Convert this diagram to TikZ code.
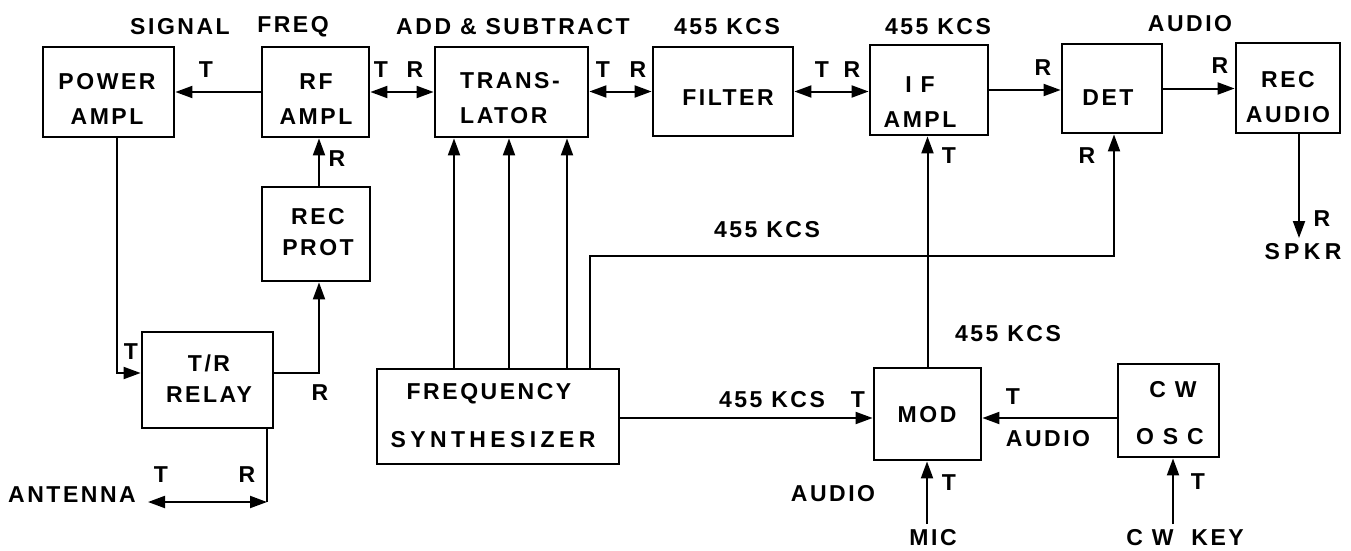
\documentclass[tikz,border=0pt]{standalone}
\usepackage{fontspec}
\setmainfont{Liberation Sans}[LetterSpace=11,BoldFont={Liberation Sans Bold}]
\usetikzlibrary{arrows.meta}
\newcommand\dfont{\fontsize{23}{27}\selectfont\bfseries}
\begin{document}
\begin{tikzpicture}[x=1pt,y=-1pt,
  box/.style={draw, line width=2.8pt, inner sep=0pt, rectangle},
  txt/.style={font=\dfont, inner sep=0pt, align=center},
  lbl/.style={font=\dfont, inner sep=0pt},
  wire/.style={line width=2pt},
  arr/.style={wire, -{Triangle[length=17pt,width=12pt]}},
  darr/.style={wire, {Triangle[length=17pt,width=12pt]}-{Triangle[length=17pt,width=12pt]}}]
\useasboundingbox[fill=white] (0,0) rectangle (1351,551);

% boxes
\node[box, minimum width=131pt, minimum height=90pt] (pa)  at (108.5,92) {};
\node[box, minimum width=107pt, minimum height=90pt] (rf)  at (315.5,92) {};
\node[box, minimum width=153pt, minimum height=90pt] (tr)  at (511.5,92) {};
\node[box, minimum width=140pt, minimum height=89pt] (fi)  at (723,91.5) {};
\node[box, minimum width=118pt, minimum height=90pt] (if)  at (929,90) {};
\node[box, minimum width=100pt, minimum height=89pt] (det) at (1112,88.5) {};
\node[box, minimum width=104pt, minimum height=90pt] (ra)  at (1288,88) {};
\node[box, minimum width=108pt, minimum height=94pt] (rp)  at (316,234) {};
\node[box, minimum width=131pt, minimum height=96pt] (rel) at (207.5,380) {};
\node[box, minimum width=242pt, minimum height=95pt] (fs)  at (498,416.5) {};
\node[box, minimum width=107pt, minimum height=92pt] (mod) at (927.5,414) {};
\node[box, minimum width=101pt, minimum height=93pt] (cw)  at (1168.5,410.5) {};

% box texts
\node[txt] (paT)  at (107,99)  {POWER\\[8pt]AMPL};
\node[txt] (rfT)  at (316,99)  {RF\\[8pt]AMPL};
\node[txt, align=left] (trT) at (510,98) {TRANS-\\[8pt]LATOR};
\node[txt] (fiT)  at (728,98)  {FILTER};
\node[txt] (ifT)  at (920,102) {I F\\[8pt]AMPL};
\node[txt] (detT) at (1108,97.5) {DET};
\node[txt] (raT)  at (1288,97) {REC\\[8pt]AUDIO};
\node[txt] (rpT)  at (318,232) {REC\\[4pt]PROT};
\node[txt] (relT) at (209,379) {T/R\\[4pt]RELAY};
\node[txt] (fsT1) at (489,393.5) {FREQUENCY};
\node[txt, font=\dfont\addfontfeature{LetterSpace=19}] (fsT2) at (493,440) {SYNTHESIZER};
\node[txt] (modT) at (927,415) {MOD};
\node[txt] (cwT1) at (1173,389.5) {C W};
\node[txt] (cwT2) at (1170,436.5) {O S C};

% coordinates
\coordinate (spk) at (1299,238);
\coordinate (x319) at (319,0);
\coordinate (paDn) at (117,373);
\coordinate (rpUp) at (319,373);
\coordinate (antC) at (267,502);
\coordinate (ant) at (148,502);
\coordinate (s1) at (454,0);
\coordinate (s2) at (509,0);
\coordinate (s3) at (567,0);
\coordinate (lo) at (590,256);
\coordinate (lo2) at (1114,256);
\coordinate (fsm) at (0,418);
\coordinate (mic) at (927,524);
\coordinate (cwk) at (1173,524);

% connectors
\draw[arr] (rf.west) -- (pa.east);
\draw[darr] (rf.east) -- (tr.west);
\draw[darr] (tr.east |- fi.west) -- (fi.west);
\draw[darr] (fi.east) -- (fi.east -| if.west);
\draw[arr] (if.east) -- (if.east -| det.west);
\draw[arr] (det.east) -- (det.east -| ra.west);
\draw[arr] (ra.south -| spk) -- (spk);
\draw[arr] (rp.north -| x319) -- (rf.south -| x319);
\draw[arr] (pa.south -| paDn) -- (paDn) -- (rel.west |- paDn);
\draw[arr] (rel.east |- rpUp) -- (rpUp) -- (rp.south -| rpUp);
\draw[wire] (rel.south -| antC) -- (antC);
\draw[darr] (ant) -- (antC);
\draw[arr] (fs.north -| s1) -- (tr.south -| s1);
\draw[arr] (fs.north -| s2) -- (tr.south -| s2);
\draw[arr] (fs.north -| s3) -- (tr.south -| s3);
\draw[arr] (fs.north -| lo) -- (lo) -- (lo2) -- (det.south -| lo2);
\draw[arr] (fs.east |- fsm) -- (mod.west |- fsm);
\draw[arr] (mod.north) -- (mod.north |- if.south);
\draw[arr] (cw.west |- fsm) -- (mod.east |- fsm);
\draw[arr] (mic) -- (mod.south -| mic);
\draw[arr] (cwk) -- (cw.south -| cwk);

% labels
\node[lbl] (l1) at (180,27) {SIGNAL};
\node[lbl] (l2) at (293,27) {FREQ};
\node[lbl] (l3) at (513,27) {ADD \& SUBTRACT};
\node[lbl] (l4) at (727,27) {455 KCS};
\node[lbl] (l5) at (938,27) {455 KCS};
\node[lbl] (l6) at (1190,24) {AUDIO};
\node[lbl] (t1) at (206,70) {T};
\node[lbl] (t2) at (381,70) {T};
\node[lbl] (r2) at (415,70) {R};
\node[lbl] (t3) at (603,70) {T};
\node[lbl] (r3) at (638,70) {R};
\node[lbl] (t4) at (822,70) {T};
\node[lbl] (r4) at (852,70) {R};
\node[lbl] (r5) at (1043,68) {R};
\node[lbl] (r6) at (1220,66) {R};
\node[lbl] (r7) at (337,159) {R};
\node[lbl] (t8) at (949,156) {T};
\node[lbl] (r8) at (1087,156) {R};
\node[lbl] (r9) at (1322,219) {R};
\node[lbl, font=\dfont\addfontfeature{LetterSpace=19}] (spkr) at (1303,252) {SPKR};
\node[lbl] (k1) at (767,230) {455 KCS};
\node[lbl] (k2) at (1008,334) {455 KCS};
\node[lbl] (t10) at (131,352) {T};
\node[lbl] (r10) at (320,393) {R};
\node[lbl] (t11) at (161,475) {T};
\node[lbl] (r11) at (247,475) {R};
\node[lbl] (antT) at (72,495) {ANTENNA};
\node[lbl] (k3) at (772,400) {455 KCS};
\node[lbl] (t12) at (858,400) {T};
\node[lbl] (t13) at (1013,397) {T};
\node[lbl] (au1) at (1048,439) {AUDIO};
\node[lbl] (au2) at (833,494) {AUDIO};
\node[lbl] (t14) at (949,483) {T};
\node[lbl] (micT) at (933,538) {MIC};
\node[lbl] (t15) at (1198,482) {T};
\node[lbl] (cwkT) at (1185,538) {C W \ KEY};
\end{tikzpicture}
\end{document}
